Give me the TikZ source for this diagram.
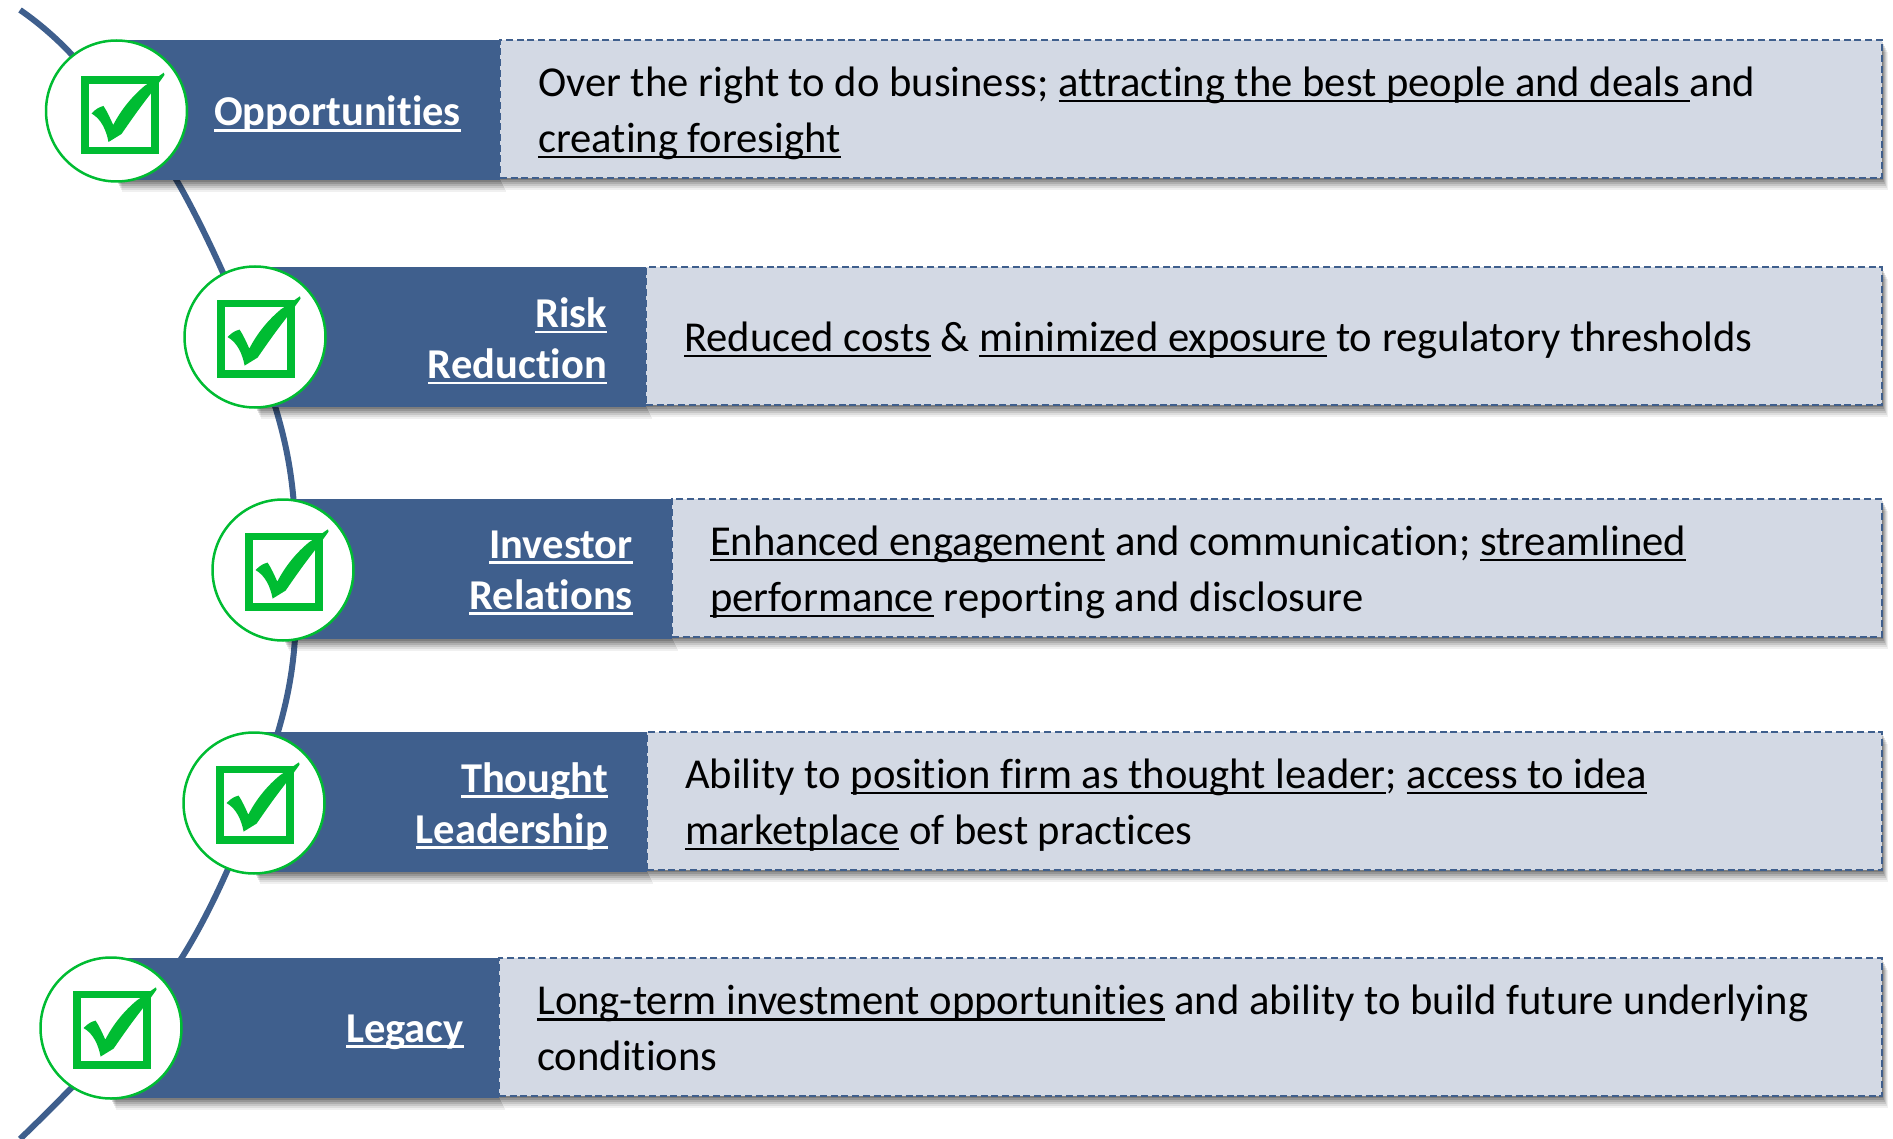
\documentclass[tikz,border=0pt]{standalone}
\usepackage{fontspec}
\setmainfont[Ligatures=NoCommon]{Carlito}
\usepackage{tikz}
\usetikzlibrary{positioning, shadows}
\definecolor{bandblue}{RGB}{63, 95, 141}
\definecolor{paleblue}{RGB}{211, 217, 228}
\definecolor{checkgreen}{RGB}{0, 188, 50}
\newcommand{\ulin}[1]{\leavevmode\setbox0\hbox{#1}\rlap{\rule[-6pt]{\wd0}{2.6pt}}\box0\relax}
\newcommand{\ulwh}[1]{\leavevmode\setbox0\hbox{#1}\rlap{\rule[-6pt]{\wd0}{2.8pt}}\box0\relax}
\tikzset{
  softshadow/.style={
    drop shadow={shadow xshift=6pt, shadow yshift=-12pt, opacity=0.06, fill=black},
    drop shadow={shadow xshift=5pt, shadow yshift=-10pt, opacity=0.08, fill=black},
    drop shadow={shadow xshift=4pt, shadow yshift=-8pt, opacity=0.1, fill=black},
    drop shadow={shadow xshift=3pt, shadow yshift=-6pt, opacity=0.12, fill=black},
    drop shadow={shadow xshift=2pt, shadow yshift=-4pt, opacity=0.14, fill=black},
    drop shadow={shadow xshift=1pt, shadow yshift=-2pt, opacity=0.16, fill=black}},
  band/.style={rectangle, fill=bandblue, minimum height=140.5pt, outer sep=0pt, inner sep=0pt, softshadow},
  txtbox/.style={rectangle, fill=paleblue, draw=bandblue, line width=2.5pt, dash pattern=on 7pt off 3.7pt,
    minimum height=138pt, outer sep=0pt, inner sep=0pt, yshift=1pt, softshadow},
  txtlabel/.style={align=left, inner sep=0pt, yshift=-4pt, font=\fontsize{42.6}{56}\selectfont},
  lbl/.style={text=white, align=right, inner sep=0pt, yshift=-4pt, font=\fontsize{42.5}{51}\selectfont\bfseries},
  ring/.style={circle, fill=white, draw=checkgreen, line width=2.5pt, minimum size=141pt, inner sep=0pt},
  spine/.style={draw=bandblue, line width=6pt},
  chkbox/.pic={
    \draw[checkgreen, line width=7.5pt] (-31.5,-31) rectangle (38.5,39.5);
    \fill[checkgreen] (-25,2.5) .. controls (-21,-2) and (-17,-4) .. (-13,-5)
      .. controls (-9,1) and (-6,8) .. (-3.3,14)
      .. controls (5,-2) and (16,-15) .. (28,-25) -- (47.3,-38.3) -- (48,-36) -- (38,-22)
      .. controls (25,-6) and (14,10) .. (5,23) -- (-8,31)
      .. controls (-10,20) and (-15,8) .. (-25,2.5) -- cycle;
  }
}
\begin{document}
\begin{tikzpicture}[x=1pt, y=-1pt]
  \useasboundingbox (0,0) rectangle (1893,1139);

  \coordinate (S_a) at (20,10);
  \coordinate (S_h) at (73,56);
  \coordinate (S_b) at (177,181);
  \coordinate (S_c) at (275,406);
  \coordinate (S_d) at (296,569);
  \coordinate (S_e) at (278,732);
  \coordinate (S_f) at (181,959);
  \coordinate (S_g) at (20,1139);
  \draw[spine] plot[smooth, tension=0.6] coordinates {(S_a) (S_h) (S_b) (S_c) (S_d) (S_e) (S_f) (S_g)};

  \node[band, minimum width=384pt] (O) at (308,110) {};
  \node[band, minimum width=391pt] (R) at (450.5,337) {};
  \node[band, minimum width=389pt] (I) at (477.5,569) {};
  \node[band, minimum width=393pt] (T) at (450.5,802) {};
  \node[band, minimum width=389pt] (L) at (304.5,1028) {};

  \node[txtbox, right=0pt of O, minimum width=1382pt] (O_b) {};
  \node[txtbox, right=0pt of R, minimum width=1236pt] (R_b) {};
  \node[txtbox, right=0pt of I, minimum width=1210pt] (I_b) {};
  \node[txtbox, right=0pt of T, minimum width=1235pt] (T_b) {};
  \node[txtbox, right=0pt of L, minimum width=1383pt] (L_b) {};

  \node[txtlabel, right=38pt of O_b.west] (O_t)
    {Over the right to do business; \ulin{attracting the best people and deals }and\\\ulin{creating foresight}};
  \node[txtlabel, right=38pt of R_b.west] (R_t)
    {\ulin{Reduced costs} \& \ulin{minimized exposure} to regulatory thresholds};
  \node[txtlabel, right=38pt of I_b.west] (I_t)
    {\ulin{Enhanced engagement} and communication; \ulin{streamlined}\\\ulin{performance} reporting and disclosure};
  \node[txtlabel, right=38pt of T_b.west] (T_t)
    {Ability to \ulin{position firm as thought leader}; \ulin{access to idea}\\\ulin{marketplace} of best practices};
  \node[txtlabel, right=38pt of L_b.west, yshift=3pt] (L_t)
    {\ulin{Long-term investment opportunities} and ability to build future underlying\\conditions};

  \node[lbl, left=39pt of O.east] (O_l) {\ulwh{Opportunities}};
  \node[lbl, left=39pt of R.east] (R_l) {\ulwh{Risk}\\\ulwh{Reduction}};
  \node[lbl, left=39pt of I.east] (I_l) {\ulwh{Investor}\\\ulwh{Relations}};
  \node[lbl, left=39pt of T.east] (T_l) {\ulwh{Thought}\\\ulwh{Leadership}};
  \node[lbl, left=35pt of L.east] (L_l) {\ulwh{Legacy}};

  \node[ring] (O_c) at (116.5,111) {};
  \node[ring] (R_c) at (255,337) {};
  \node[ring] (I_c) at (283,570) {};
  \node[ring] (T_c) at (254,803) {};
  \node[ring] (L_c) at (111,1028) {};

  \pic at (O_c) {chkbox};
  \pic at ([shift={(-2.4,-2.4)}]R_c) {chkbox};
  \pic at ([shift={(-2.4,-2.4)}]I_c) {chkbox};
  \pic at ([shift={(-2.4,-2.4)}]T_c) {chkbox};
  \pic at ([shift={(-2.4,-2.4)}]L_c) {chkbox};
\end{tikzpicture}
\end{document}
